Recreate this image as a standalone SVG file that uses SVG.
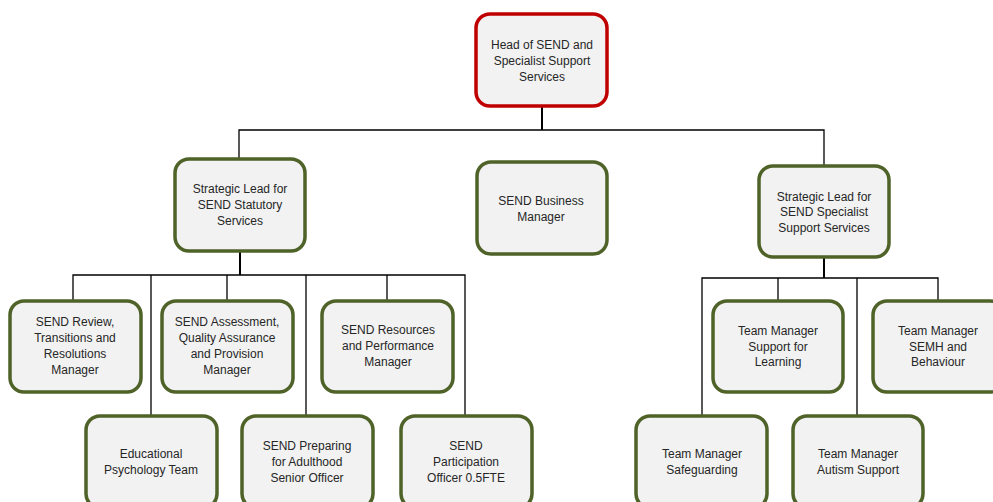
<svg xmlns="http://www.w3.org/2000/svg" width="993" height="502" viewBox="0 0 993 502">
<style>
.box{fill:#F2F2F2;stroke:#4F6228;stroke-width:3.5}
.head{fill:#F2F2F2;stroke:#C00000;stroke-width:3.5}
text{font-family:"Liberation Sans",Arial,sans-serif;font-size:12px;fill:#262626;text-anchor:middle}
.c{fill:none;stroke:#000;stroke-width:1.3}
.ct{fill:none;stroke:#000;stroke-width:2}
</style>
<rect width="993" height="502" fill="#fff"/>
<g id="connectors">
<path class="ct" d="M542,106V130"/>
<path class="c" d="M239,158V130H824V165"/>
<path class="ct" d="M240,251V275"/>
<path class="c" d="M73,300V275H465V415M151,275V415M227,275V300M306,275V415M387,275V300"/>
<path class="ct" d="M824,257V278"/>
<path class="c" d="M702,415V278H938V300M778,278V300M857,278V415"/>
</g>
<g id="head"><rect class="head" x="476" y="14" width="131" height="92" rx="14"/>
<text x="542" y="49">Head of SEND and</text><text x="542" y="65">Specialist Support</text><text x="542" y="81">Services</text></g>
<g id="sl-statutory"><rect class="box" x="175" y="159" width="130" height="92" rx="14"/>
<text x="240" y="193">Strategic Lead for</text><text x="240" y="209">SEND Statutory</text><text x="240" y="225">Services</text></g>
<g id="business"><rect class="box" x="477" y="162" width="130" height="92" rx="14"/>
<text x="541" y="205">SEND Business</text><text x="541" y="221">Manager</text></g>
<g id="sl-specialist"><rect class="box" x="759" y="166" width="130" height="91" rx="14"/>
<text x="824" y="201">Strategic Lead for</text><text x="824" y="216">SEND Specialist</text><text x="824" y="232">Support Services</text></g>
<g id="review"><rect class="box" x="10" y="301" width="131" height="91" rx="14"/>
<text x="75" y="326">SEND Review,</text><text x="75" y="342">Transitions and</text><text x="75" y="358">Resolutions</text><text x="75" y="374">Manager</text></g>
<g id="assessment"><rect class="box" x="162" y="301" width="131" height="91" rx="14"/>
<text x="227" y="326">SEND Assessment,</text><text x="227" y="342">Quality Assurance</text><text x="227" y="358">and Provision</text><text x="227" y="374">Manager</text></g>
<g id="resources"><rect class="box" x="322" y="301" width="131" height="91" rx="14"/>
<text x="388" y="334">SEND Resources</text><text x="388" y="350">and Performance</text><text x="388" y="366">Manager</text></g>
<g id="edpsych"><rect class="box" x="86" y="416" width="131" height="92" rx="14"/>
<text x="151" y="458">Educational</text><text x="151" y="474">Psychology Team</text></g>
<g id="preparing"><rect class="box" x="242" y="416" width="131" height="92" rx="14"/>
<text x="307" y="450">SEND Preparing</text><text x="307" y="466">for Adulthood</text><text x="307" y="482">Senior Officer</text></g>
<g id="participation"><rect class="box" x="401" y="416" width="131" height="92" rx="14"/>
<text x="466" y="450">SEND</text><text x="466" y="466">Participation</text><text x="466" y="482">Officer 0.5FTE</text></g>
<g id="learning"><rect class="box" x="713" y="301" width="130" height="91" rx="14"/>
<text x="778" y="335">Team Manager</text><text x="778" y="351">Support for</text><text x="778" y="366">Learning</text></g>
<g id="semh"><rect class="box" x="873" y="301" width="131" height="91" rx="14"/>
<text x="938" y="335">Team Manager</text><text x="938" y="351">SEMH and</text><text x="938" y="366">Behaviour</text></g>
<g id="safeguarding"><rect class="box" x="636" y="416" width="131" height="92" rx="14"/>
<text x="702" y="458">Team Manager</text><text x="702" y="474">Safeguarding</text></g>
<g id="autism"><rect class="box" x="793" y="416" width="130" height="92" rx="14"/>
<text x="858" y="458">Team Manager</text><text x="858" y="474">Autism Support</text></g>
</svg>
